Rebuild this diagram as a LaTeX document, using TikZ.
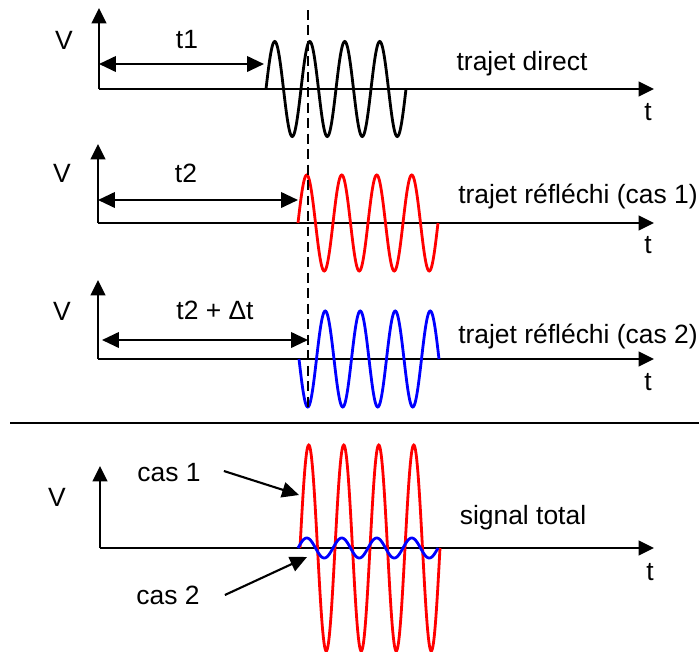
\documentclass[tikz,border=0pt]{standalone}
\usepackage{fontspec}
\setmainfont{Liberation Sans}
\usetikzlibrary{arrows.meta}

\begin{document}
\begin{tikzpicture}[x=0.025cm,y=-0.025cm,
  axe/.style={line width=1.5pt,-{Triangle[length=11pt,width=10.5pt]}},
  duree/.style={line width=1.5pt,{Triangle[length=12pt,width=11pt]}-{Triangle[length=12pt,width=11pt]}},
  fleche/.style={line width=1.5pt,-{Triangle[length=12pt,width=11pt]}},
  onde/.style={line width=2pt},
  every node/.style={font=\fontsize{18.8}{22}\selectfont,inner sep=0pt}]
\useasboundingbox (0,0) rectangle (699,652);
% trajet direct
\coordinate (o1) at (99,89);
\draw[axe] (o1) -- (99,8);
\draw[axe] (o1) -- (654,89);
\node (V1) at (64,40) {V};
\node (T1) at (648,112) {t};
\draw[duree] (99,64) -- (264,64);
\node (t1) at (187,40) {t1};
\draw[onde] plot[domain=0:1440,samples=241] ({266+\x/360*35},{89-47.5*sin(\x)});
\node (lab1) at (522,64) {trajet direct};
% trajet reflechi, cas 1
\coordinate (o2) at (98,223);
\draw[axe] (o2) -- (98,144);
\draw[axe] (o2) -- (654,223);
\node (V2) at (62,173) {V};
\node (T2) at (648,245) {t};
\draw[duree] (98,200) -- (298,200);
\node (t2) at (186,173) {t2};
\draw[onde,red] plot[domain=0:1440,samples=241] ({298+\x/360*35},{223-48*sin(\x)});
\node (lab2) at (578,197) {trajet réfléchi (cas 1)};
% trajet reflechi, cas 2
\coordinate (o3) at (98,359);
\draw[axe] (o3) -- (98,280);
\draw[axe] (o3) -- (654,359);
\node (V3) at (62,311) {V};
\node (T3) at (648,382) {t};
\draw[duree] (102,340) -- (308,340);
\node (t3) at (215,310) {t2 + Δt};
\draw[onde,blue] plot[domain=0:1440,samples=241] ({299+\x/360*35},{359+48*sin(\x)});
\node (lab3) at (578,337) {trajet réfléchi (cas 2)};
\draw[line width=1.7pt,dash pattern=on 7pt off 4pt] (308,10) -- (308,412);
\draw[line width=1.5pt] (10,423) -- (699,423);
% signal total
\coordinate (o4) at (100,548);
\draw[axe] (o4) -- (100,466);
\draw[axe] (o4) -- (654,548);
\node (V4) at (57,497) {V};
\node (T4) at (650,572) {t};
\draw[onde,red] plot[domain=0:1440,samples=241] ({300+\x/360*35},{548-103*sin(\x)});
\draw[onde,blue] plot[domain=0:1440,samples=241] ({298+\x/360*35},{548-10*sin(\x)});
\node (lab4) at (523,518) {signal total};
\node (cas1) at (169,473) {cas 1};
\node (cas2) at (168,595) {cas 2};
\coordinate (c1) at (299,495);
\coordinate (c2) at (307,557);
\draw[fleche] (cas1.east) ++(23,-2) -- (c1);
\draw[fleche] (cas2.east) ++(25,0) -- (c2);
\end{tikzpicture}
\end{document}
